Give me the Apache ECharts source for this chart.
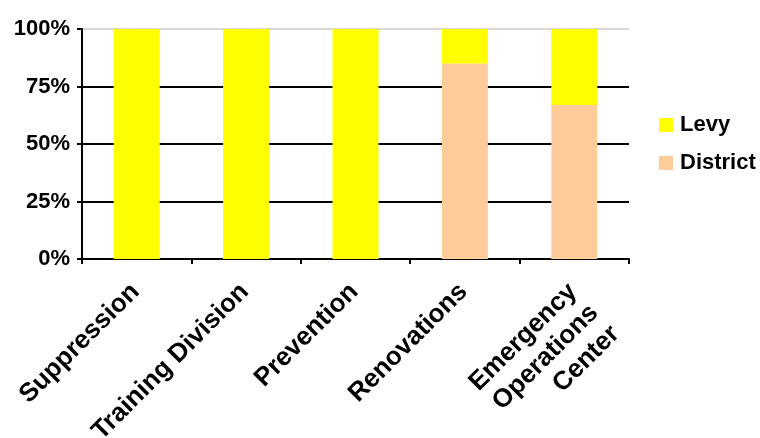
<!DOCTYPE html>
<html><head><meta charset="utf-8">
<script src="https://cdn.jsdelivr.net/npm/echarts@6/dist/echarts.min.js"></script>
<style>html,body{margin:0;padding:0;background:#fff}#c{width:760px;height:438px}</style>
</head><body><div id="c"></div>
<script>
const categories = ['Suppression', 'Training Division', 'Prevention', 'Renovations', 'Emergency\nOperations\nCenter'];
const districtValues = [0, 0, 0, 85, 67];
const levyValues = [100, 100, 100, 15, 33];
const yTicks = [0, 25, 50, 75, 100];

const chart = echarts.init(document.getElementById('c'), null, {renderer: 'canvas'});
const font = 'Liberation Sans, Arial, sans-serif';
chart.setOption({
  animation: false,
  backgroundColor: '#fff',
  grid: {left: 82, right: 131, top: 29, bottom: 179, containLabel: false, outerBoundsMode: 'none'},
  legend: {
    orient: 'vertical', left: 654, top: 109, itemWidth: 14, itemHeight: 14, itemGap: 16,
    data: ['Levy', 'District'],
    icon: 'rect',
    textStyle: {fontFamily: font, fontWeight: 'bold', fontSize: 22, color: '#000', padding: [0, 0, 0, 2]}
  },
  xAxis: {
    type: 'category', data: categories,
    axisLine: {lineStyle: {color: '#000', width: 2}},
    axisTick: {show: true, length: 5, lineStyle: {color: '#000', width: 2}},
    axisLabel: {
      rotate: 45, interval: 0, margin: 6, padding: [0, 17, 0, 0],
      fontFamily: font, fontWeight: 'bold', fontSize: 26, color: '#000', lineHeight: 30,
      align: 'right', verticalAlign: 'top'
    }
  },
  yAxis: {
    type: 'value', min: yTicks[0], max: yTicks[yTicks.length - 1], interval: 25,
    axisLine: {show: true, lineStyle: {color: '#000', width: 2}},
    axisTick: {show: true, length: 5, lineStyle: {color: '#000', width: 2}},
    axisLabel: {formatter: '{value}%', margin: 12, fontFamily: font, fontWeight: 'bold', fontSize: 22, color: '#000'},
    splitLine: {show: true, lineStyle: {color: ['#000', '#000', '#000', '#000', '#d8d8d8'], width: 2}}
  },
  series: [
    {name: 'District', type: 'bar', stack: 's', data: districtValues, barWidth: 46, itemStyle: {color: '#FFCC99'}},
    {name: 'Levy', type: 'bar', stack: 's', data: levyValues, barWidth: 46, itemStyle: {color: '#FFFF00'}}
  ]
});
</script></body></html>
